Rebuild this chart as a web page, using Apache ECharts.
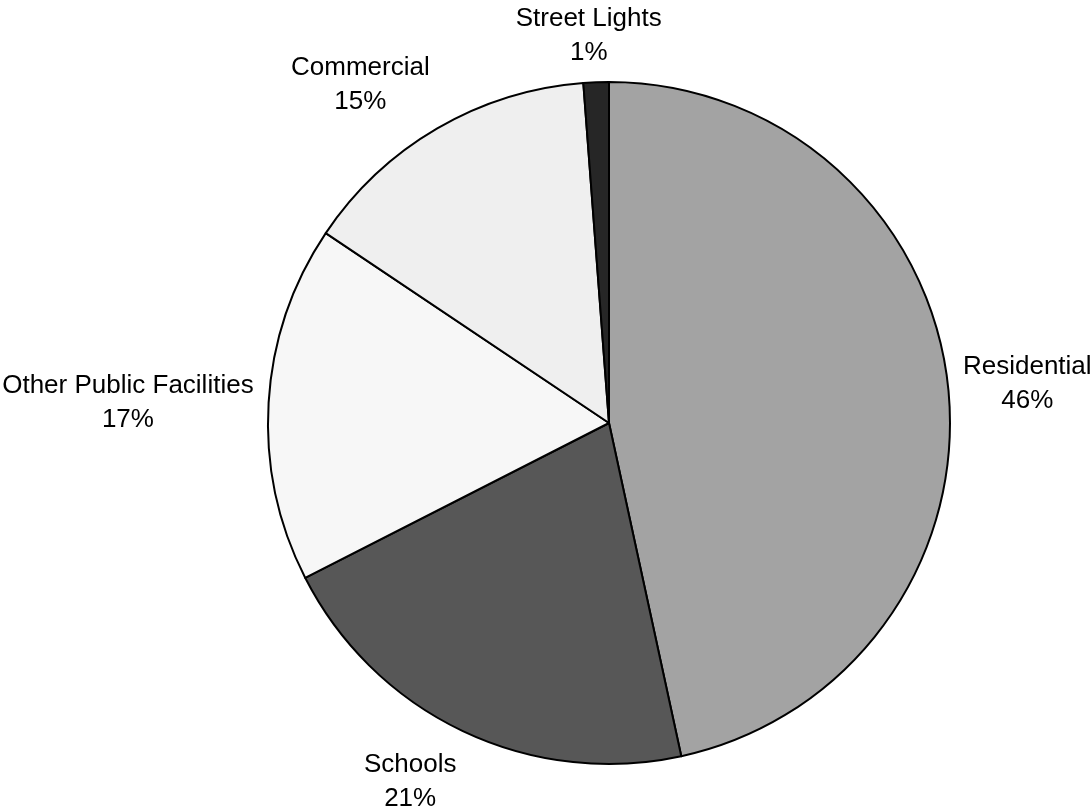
<!DOCTYPE html>
<html>
<head>
<meta charset="utf-8">
<script src="https://cdn.jsdelivr.net/npm/echarts@6/dist/echarts.min.js"></script>
<style>
html,body{margin:0;padding:0;background:#fff;}
#chart{width:1092px;height:808px;}
</style>
</head>
<body>
<div id="chart"></div>
<script>
// Data
const categories = ['Residential', 'Schools', 'Other Public Facilities', 'Commercial', 'Street Lights'];
const values = [46.6, 20.9, 16.9, 14.4, 1.2];
const percentLabels = ['46%', '21%', '17%', '15%', '1%'];
const colors = ['#a3a3a3', '#575757', '#f7f7f7', '#efefef', '#262626'];

// Layout constants
const CX = 609, CY = 423, R = 341;
const LABEL_GAP = 15, SPREAD_X = 2.5, SPREAD_Y = 1.2, TEXT_SHIFT_Y = 3;

const total = values.reduce((a, b) => a + b, 0);
const midAngles = [];
let acc = 0;
values.forEach(v => {
  midAngles.push(((acc + v / 2) / total) * 2 * Math.PI); // clockwise from top
  acc += v;
});

const chart = echarts.init(document.getElementById('chart'), null, {renderer: 'canvas'});
const clamp = (t) => Math.max(-1, Math.min(1, t));

chart.setOption({
  animation: false,
  backgroundColor: '#ffffff',
  series: [{
    type: 'pie',
    silent: true,
    center: [CX, CY],
    radius: R,
    startAngle: 90,
    clockwise: true,
    avoidLabelOverlap: false,
    itemStyle: {borderColor: '#000000', borderWidth: 2},
    label: {
      show: true,
      position: 'outside',
      formatter: (p) => p.name + '\n' + percentLabels[p.dataIndex],
      fontFamily: '"Liberation Sans", Arial, sans-serif',
      fontSize: 26,
      lineHeight: 34,
      color: '#000000',
      align: 'center'
    },
    labelLine: {show: false},
    labelLayout: function (params) {
      const a = midAngles[params.dataIndex];
      const ux = Math.sin(a), uy = -Math.cos(a);
      const px = CX + ux * (R + LABEL_GAP);
      const py = CY + uy * (R + LABEL_GAP);
      const hw = params.labelRect.width / 2;
      const hh = params.labelRect.height / 2;
      return {
        x: px + hw * clamp(ux * SPREAD_X),
        y: py + hh * clamp(uy * SPREAD_Y) + TEXT_SHIFT_Y,
        align: 'center',
        verticalAlign: 'middle'
      };
    },
    data: categories.map((c, i) => ({
      name: c,
      value: values[i],
      itemStyle: {color: colors[i]}
    }))
  }]
});
</script>
</body>
</html>
